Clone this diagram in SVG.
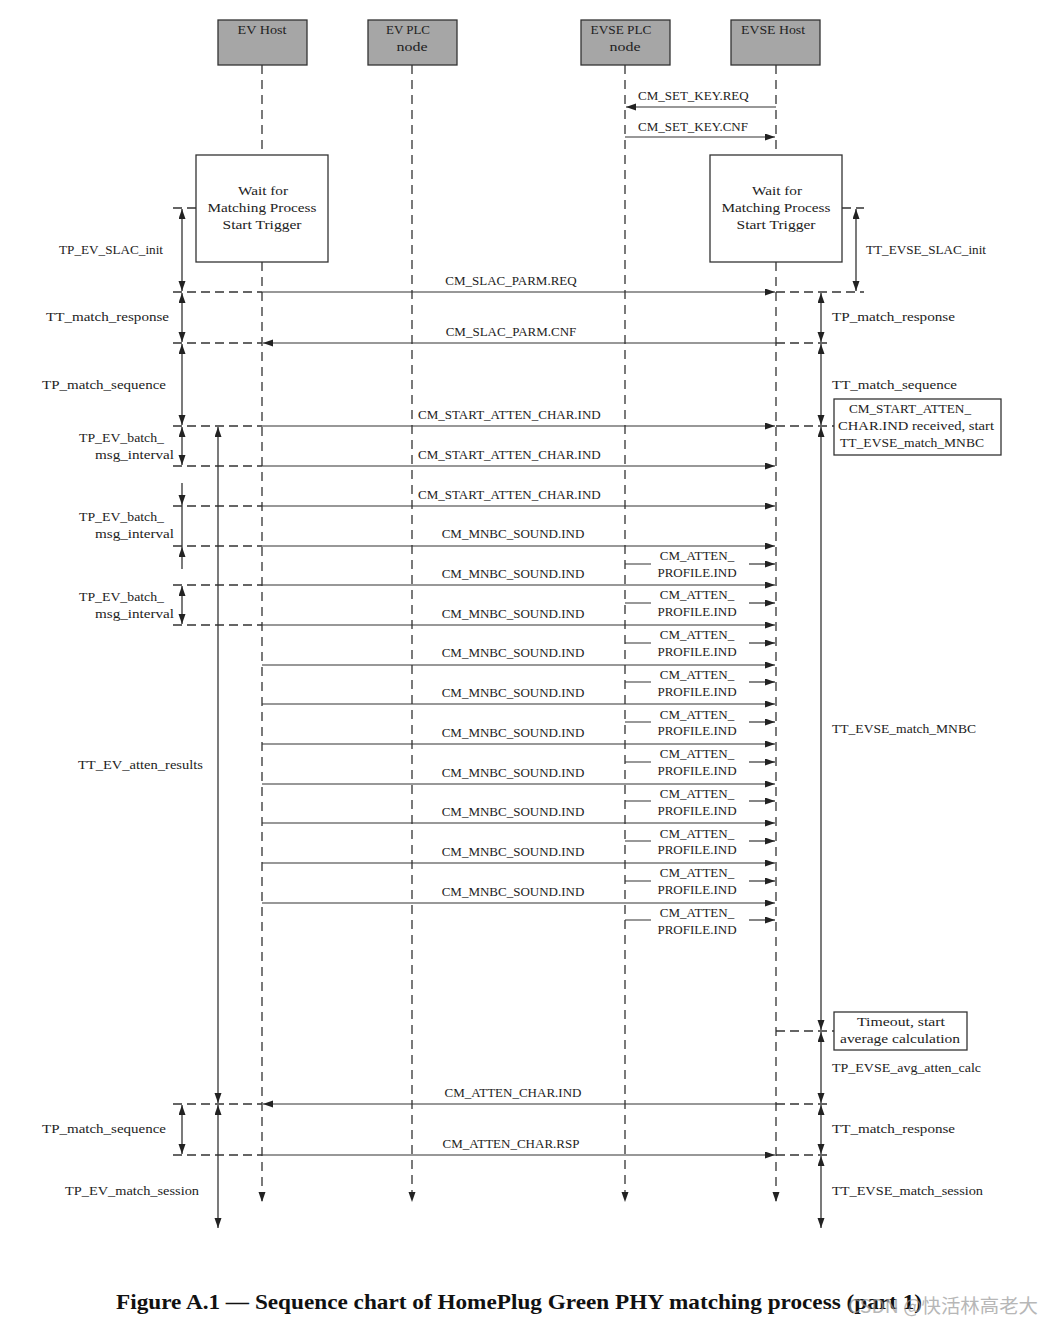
<svg xmlns="http://www.w3.org/2000/svg" width="1042" height="1324" viewBox="0 0 1042 1324">
<style>
text{font-family:"Liberation Serif","DejaVu Serif",serif;font-size:13px;fill:#222}
.c{text-anchor:middle}
.r{text-anchor:end}
.hdr{fill:#a6a6a6;stroke:#333;stroke-width:1.3}
.box{fill:#fff;stroke:#333;stroke-width:1.3}
.life{stroke:#333;stroke-width:1.3;stroke-dasharray:9 6;fill:none}
.dash{stroke:#333;stroke-width:1.3;stroke-dasharray:9 5;fill:none}
.msg{stroke:#333;stroke-width:1.2;fill:none}
.dim{stroke:#333;stroke-width:1.3;fill:none}
.cap{font-size:21px;font-weight:bold;fill:#111}
.wm{font-family:"Noto Sans CJK SC","Liberation Sans",sans-serif;font-size:19px;fill:#999;opacity:0.7}
</style>
<defs>
<marker id="ah" markerUnits="userSpaceOnUse" markerWidth="10" markerHeight="8" refX="10" refY="3.5" orient="auto-start-reverse"><path d="M0,0 L10,3.5 L0,7 z" fill="#222"/></marker>
</defs>

<g id="ev-host"><rect class="hdr" x="218" y="20" width="89" height="45"/><text class="c" x="262" y="34" textLength="49" lengthAdjust="spacingAndGlyphs">EV Host</text></g>
<g id="ev-plc"><rect class="hdr" x="368" y="20" width="89" height="45"/><text class="c" x="408" y="34" textLength="44" lengthAdjust="spacingAndGlyphs">EV PLC</text><text class="c" x="412" y="51" textLength="31" lengthAdjust="spacingAndGlyphs">node</text></g>
<g id="evse-plc"><rect class="hdr" x="581" y="20" width="89" height="45"/><text class="c" x="621" y="34" textLength="61" lengthAdjust="spacingAndGlyphs">EVSE PLC</text><text class="c" x="625" y="51" textLength="31" lengthAdjust="spacingAndGlyphs">node</text></g>
<g id="evse-host"><rect class="hdr" x="731" y="20" width="89" height="45"/><text class="c" x="773" y="34" textLength="64" lengthAdjust="spacingAndGlyphs">EVSE Host</text></g>

<g id="ev-wait"><rect class="box" x="196" y="155" width="132" height="107"/>
<text class="c" x="263" y="195" textLength="50" lengthAdjust="spacingAndGlyphs">Wait for</text>
<text class="c" x="262" y="212" textLength="109" lengthAdjust="spacingAndGlyphs">Matching Process</text>
<text class="c" x="262" y="229" textLength="79" lengthAdjust="spacingAndGlyphs">Start Trigger</text></g>
<g id="evse-wait"><rect class="box" x="710" y="155" width="132" height="107"/>
<text class="c" x="777" y="195" textLength="50" lengthAdjust="spacingAndGlyphs">Wait for</text>
<text class="c" x="776" y="212" textLength="109" lengthAdjust="spacingAndGlyphs">Matching Process</text>
<text class="c" x="776" y="229" textLength="79" lengthAdjust="spacingAndGlyphs">Start Trigger</text></g>

<g id="note-start"><rect class="box" x="834" y="399" width="167" height="56"/>
<text class="c" x="910" y="413" textLength="122" lengthAdjust="spacingAndGlyphs">CM_START_ATTEN_</text>
<text class="c" x="916" y="430" textLength="156" lengthAdjust="spacingAndGlyphs">CHAR.IND received, start</text>
<text class="c" x="912" y="447" textLength="144" lengthAdjust="spacingAndGlyphs">TT_EVSE_match_MNBC</text></g>
<g id="note-timeout"><rect class="box" x="834" y="1012" width="133" height="38"/>
<text class="c" x="901" y="1026" textLength="88" lengthAdjust="spacingAndGlyphs">Timeout, start</text>
<text class="c" x="900" y="1043" textLength="120" lengthAdjust="spacingAndGlyphs">average calculation</text></g>

<g id="lifelines">
<path class="life" d="M262,65 V155 M262,262 V1202" marker-end="url(#ah)"/>
<path class="life" d="M412,65 V1202" marker-end="url(#ah)"/>
<path class="life" d="M625,65 V1202" marker-end="url(#ah)"/>
<path class="life" d="M776,65 V155 M776,262 V1202" marker-end="url(#ah)"/>
</g>

<g id="connectors">
<line class="msg" x1="776" y1="107" x2="626" y2="107" marker-end="url(#ah)"/>
<line class="msg" x1="625" y1="137" x2="775" y2="137" marker-end="url(#ah)"/>
<line class="msg" x1="262" y1="292" x2="775" y2="292" marker-end="url(#ah)"/>
<line class="msg" x1="776" y1="343" x2="263" y2="343" marker-end="url(#ah)"/>
<line class="msg" x1="262" y1="426" x2="775" y2="426" marker-end="url(#ah)"/>
<line class="msg" x1="262" y1="466" x2="775" y2="466" marker-end="url(#ah)"/>
<line class="msg" x1="262" y1="506" x2="775" y2="506" marker-end="url(#ah)"/>
<line class="msg" x1="262" y1="546" x2="775" y2="546" marker-end="url(#ah)"/>
<line class="msg" x1="262" y1="585" x2="775" y2="585" marker-end="url(#ah)"/>
<line class="msg" x1="262" y1="625" x2="775" y2="625" marker-end="url(#ah)"/>
<line class="msg" x1="262" y1="665" x2="775" y2="665" marker-end="url(#ah)"/>
<line class="msg" x1="262" y1="704" x2="775" y2="704" marker-end="url(#ah)"/>
<line class="msg" x1="262" y1="744" x2="775" y2="744" marker-end="url(#ah)"/>
<line class="msg" x1="262" y1="784" x2="775" y2="784" marker-end="url(#ah)"/>
<line class="msg" x1="262" y1="823" x2="775" y2="823" marker-end="url(#ah)"/>
<line class="msg" x1="262" y1="863" x2="775" y2="863" marker-end="url(#ah)"/>
<line class="msg" x1="262" y1="903" x2="775" y2="903" marker-end="url(#ah)"/>
<line class="msg" x1="776" y1="1104" x2="263" y2="1104" marker-end="url(#ah)"/>
<line class="msg" x1="262" y1="1155" x2="775" y2="1155" marker-end="url(#ah)"/>
<path class="msg" d="M625,564 H651 M625,603 H651 M625,643 H651 M625,682 H651 M625,722 H651 M625,762 H651 M625,801 H651 M625,841 H651 M625,881 H651 M625,920 H651"/>
<line class="msg" x1="749" y1="564" x2="775" y2="564" marker-end="url(#ah)"/>
<line class="msg" x1="749" y1="603" x2="775" y2="603" marker-end="url(#ah)"/>
<line class="msg" x1="749" y1="643" x2="775" y2="643" marker-end="url(#ah)"/>
<line class="msg" x1="749" y1="682" x2="775" y2="682" marker-end="url(#ah)"/>
<line class="msg" x1="749" y1="722" x2="775" y2="722" marker-end="url(#ah)"/>
<line class="msg" x1="749" y1="762" x2="775" y2="762" marker-end="url(#ah)"/>
<line class="msg" x1="749" y1="801" x2="775" y2="801" marker-end="url(#ah)"/>
<line class="msg" x1="749" y1="841" x2="775" y2="841" marker-end="url(#ah)"/>
<line class="msg" x1="749" y1="881" x2="775" y2="881" marker-end="url(#ah)"/>
<line class="msg" x1="749" y1="920" x2="775" y2="920" marker-end="url(#ah)"/>

<path class="dash" d="M173,208 H196 M173,292 H262 M173,343 H262 M173,426 H262 M173,466 H262 M173,506 H262 M173,546 H262 M173,585 H262 M173,625 H262 M173,1104 H262 M173,1155 H262"/>
<path class="dash" d="M842,208 H864 M776,292 H864 M776,343 H830 M776,426 H834 M776,1031 H834 M776,1104 H830 M776,1155 H830"/>

<line class="dim" x1="182" y1="209" x2="182" y2="291" marker-start="url(#ah)" marker-end="url(#ah)"/>
<line class="dim" x1="182" y1="293" x2="182" y2="342" marker-start="url(#ah)" marker-end="url(#ah)"/>
<line class="dim" x1="182" y1="344" x2="182" y2="425" marker-start="url(#ah)" marker-end="url(#ah)"/>
<line class="dim" x1="182" y1="427" x2="182" y2="465" marker-start="url(#ah)" marker-end="url(#ah)"/>
<line class="dim" x1="182" y1="483" x2="182" y2="505" marker-end="url(#ah)"/>
<line class="dim" x1="182" y1="505" x2="182" y2="547"/>
<line class="dim" x1="182" y1="569" x2="182" y2="547" marker-end="url(#ah)"/>
<line class="dim" x1="182" y1="586" x2="182" y2="624" marker-start="url(#ah)" marker-end="url(#ah)"/>
<line class="dim" x1="182" y1="1105" x2="182" y2="1154" marker-start="url(#ah)" marker-end="url(#ah)"/>
<line class="dim" x1="218" y1="427" x2="218" y2="1103" marker-start="url(#ah)" marker-end="url(#ah)"/>
<line class="dim" x1="218" y1="1105" x2="218" y2="1228" marker-start="url(#ah)" marker-end="url(#ah)"/>

<line class="dim" x1="856" y1="209" x2="856" y2="291" marker-start="url(#ah)" marker-end="url(#ah)"/>
<line class="dim" x1="821" y1="293" x2="821" y2="342" marker-start="url(#ah)" marker-end="url(#ah)"/>
<line class="dim" x1="821" y1="344" x2="821" y2="425" marker-start="url(#ah)" marker-end="url(#ah)"/>
<line class="dim" x1="821" y1="427" x2="821" y2="1030" marker-start="url(#ah)" marker-end="url(#ah)"/>
<line class="dim" x1="821" y1="1032" x2="821" y2="1103" marker-start="url(#ah)" marker-end="url(#ah)"/>
<line class="dim" x1="821" y1="1105" x2="821" y2="1154" marker-start="url(#ah)" marker-end="url(#ah)"/>
<line class="dim" x1="821" y1="1156" x2="821" y2="1228" marker-start="url(#ah)" marker-end="url(#ah)"/>
</g>

<g id="labels">
<text x="638" y="100">CM_SET_KEY.REQ</text>
<text x="638" y="131">CM_SET_KEY.CNF</text>
<text class="c" x="511" y="285">CM_SLAC_PARM.REQ</text>
<text class="c" x="511" y="336">CM_SLAC_PARM.CNF</text>
<text x="418" y="419">CM_START_ATTEN_CHAR.IND</text>
<text x="418" y="459">CM_START_ATTEN_CHAR.IND</text>
<text x="418" y="499">CM_START_ATTEN_CHAR.IND</text>
<text class="c" x="513" y="538">CM_MNBC_SOUND.IND</text>
<text class="c" x="513" y="578">CM_MNBC_SOUND.IND</text>
<text class="c" x="513" y="618">CM_MNBC_SOUND.IND</text>
<text class="c" x="513" y="657">CM_MNBC_SOUND.IND</text>
<text class="c" x="513" y="697">CM_MNBC_SOUND.IND</text>
<text class="c" x="513" y="737">CM_MNBC_SOUND.IND</text>
<text class="c" x="513" y="777">CM_MNBC_SOUND.IND</text>
<text class="c" x="513" y="816">CM_MNBC_SOUND.IND</text>
<text class="c" x="513" y="856">CM_MNBC_SOUND.IND</text>
<text class="c" x="513" y="896">CM_MNBC_SOUND.IND</text>
<text class="c" x="697" y="560">CM_ATTEN_<tspan x="697" y="577">PROFILE.IND</tspan></text>
<text class="c" x="697" y="599">CM_ATTEN_<tspan x="697" y="616">PROFILE.IND</tspan></text>
<text class="c" x="697" y="639">CM_ATTEN_<tspan x="697" y="656">PROFILE.IND</tspan></text>
<text class="c" x="697" y="679">CM_ATTEN_<tspan x="697" y="696">PROFILE.IND</tspan></text>
<text class="c" x="697" y="719">CM_ATTEN_<tspan x="697" y="735">PROFILE.IND</tspan></text>
<text class="c" x="697" y="758">CM_ATTEN_<tspan x="697" y="775">PROFILE.IND</tspan></text>
<text class="c" x="697" y="798">CM_ATTEN_<tspan x="697" y="815">PROFILE.IND</tspan></text>
<text class="c" x="697" y="838">CM_ATTEN_<tspan x="697" y="854">PROFILE.IND</tspan></text>
<text class="c" x="697" y="877">CM_ATTEN_<tspan x="697" y="894">PROFILE.IND</tspan></text>
<text class="c" x="697" y="917">CM_ATTEN_<tspan x="697" y="934">PROFILE.IND</tspan></text>
<text class="c" x="513" y="1097">CM_ATTEN_CHAR.IND</text>
<text class="c" x="511" y="1148">CM_ATTEN_CHAR.RSP</text>

<text x="59" y="254" textLength="104" lengthAdjust="spacingAndGlyphs">TP_EV_SLAC_init</text>
<text x="46" y="321" textLength="123" lengthAdjust="spacingAndGlyphs">TT_match_response</text>
<text x="42" y="389" textLength="124" lengthAdjust="spacingAndGlyphs">TP_match_sequence</text>
<text x="79" y="442" textLength="85" lengthAdjust="spacingAndGlyphs">TP_EV_batch_</text>
<text x="95" y="459" textLength="79" lengthAdjust="spacingAndGlyphs">msg_interval</text>
<text x="79" y="521" textLength="85" lengthAdjust="spacingAndGlyphs">TP_EV_batch_</text>
<text x="95" y="538" textLength="79" lengthAdjust="spacingAndGlyphs">msg_interval</text>
<text x="79" y="601" textLength="85" lengthAdjust="spacingAndGlyphs">TP_EV_batch_</text>
<text x="95" y="618" textLength="79" lengthAdjust="spacingAndGlyphs">msg_interval</text>
<text x="78" y="769" textLength="125" lengthAdjust="spacingAndGlyphs">TT_EV_atten_results</text>
<text x="42" y="1133" textLength="124" lengthAdjust="spacingAndGlyphs">TP_match_sequence</text>
<text x="65" y="1195" textLength="134" lengthAdjust="spacingAndGlyphs">TP_EV_match_session</text>

<text x="866" y="254" textLength="120" lengthAdjust="spacingAndGlyphs">TT_EVSE_SLAC_init</text>
<text x="832" y="321" textLength="123" lengthAdjust="spacingAndGlyphs">TP_match_response</text>
<text x="832" y="389" textLength="125" lengthAdjust="spacingAndGlyphs">TT_match_sequence</text>
<text x="832" y="733" textLength="144" lengthAdjust="spacingAndGlyphs">TT_EVSE_match_MNBC</text>
<text x="832" y="1072" textLength="149" lengthAdjust="spacingAndGlyphs">TP_EVSE_avg_atten_calc</text>
<text x="832" y="1133" textLength="123" lengthAdjust="spacingAndGlyphs">TT_match_response</text>
<text x="832" y="1195" textLength="151" lengthAdjust="spacingAndGlyphs">TT_EVSE_match_session</text>
</g>

<g id="caption">
<text class="cap" x="116" y="1309" textLength="806" lengthAdjust="spacingAndGlyphs">Figure A.1 — Sequence chart of HomePlug Green PHY matching process (part 1)</text>
<text class="wm" x="848" y="1313" textLength="190" lengthAdjust="spacingAndGlyphs">CSDN @快活林高老大</text>
</g>
</svg>
